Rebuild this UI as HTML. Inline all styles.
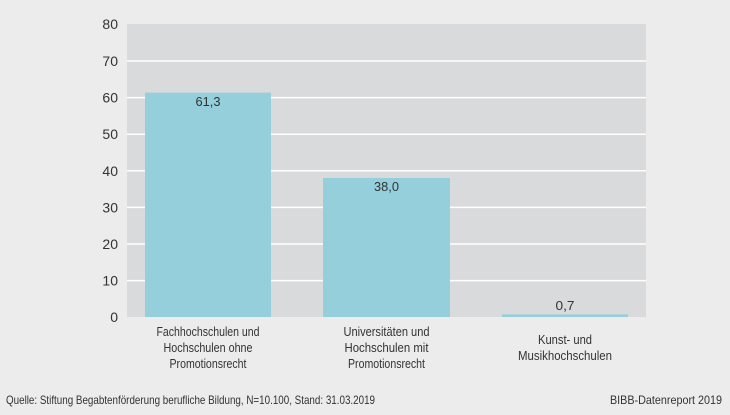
<!DOCTYPE html>
<html><head><meta charset="utf-8"><style>
html,body{margin:0;padding:0}
body{width:730px;height:415px;background:#ececed;position:relative;overflow:hidden}
</style></head><body>
<svg width="730" height="415" style="position:absolute;left:0;top:0" font-family="Liberation Sans Narrow, Liberation Sans, sans-serif" fill="#333">
<rect x="127" y="24" width="519" height="293" fill="#d9dadb"/>
<g stroke="#fff" stroke-width="1.5">
<line x1="127" x2="646" y1="61" y2="61"/>
<line x1="127" x2="646" y1="97.6" y2="97.6"/>
<line x1="127" x2="646" y1="134.2" y2="134.2"/>
<line x1="127" x2="646" y1="170.8" y2="170.8"/>
<line x1="127" x2="646" y1="207.4" y2="207.4"/>
<line x1="127" x2="646" y1="244" y2="244"/>
<line x1="127" x2="646" y1="280.6" y2="280.6"/>
</g>
<rect x="145" y="92.6" width="126" height="224.4" fill="#94cfdb"/>
<rect x="323" y="178" width="127" height="139" fill="#94cfdb"/>
<rect x="502" y="314.4" width="126" height="2.6" fill="#94cfdb"/>
<g font-size="14" text-anchor="end">
<text x="118" y="29">80</text><text x="118" y="66">70</text><text x="118" y="102.5">60</text>
<text x="118" y="139">50</text><text x="118" y="176">40</text><text x="118" y="212.5">30</text>
<text x="118" y="249">20</text><text x="118" y="285.5">10</text><text x="118" y="322">0</text>
</g>
<g font-size="13" text-anchor="middle" lengthAdjust="spacingAndGlyphs">
<text x="208" y="106" textLength="25" lengthAdjust="spacingAndGlyphs">61,3</text>
<text x="386.5" y="191" textLength="25" lengthAdjust="spacingAndGlyphs">38,0</text>
<text x="565" y="310" textLength="19" lengthAdjust="spacingAndGlyphs">0,7</text>
<text x="208" y="336" textLength="103" lengthAdjust="spacingAndGlyphs">Fachhochschulen und</text>
<text x="208" y="352" textLength="89" lengthAdjust="spacingAndGlyphs">Hochschulen ohne</text>
<text x="208" y="368" textLength="77" lengthAdjust="spacingAndGlyphs">Promotionsrecht</text>
<text x="386.5" y="336" textLength="86" lengthAdjust="spacingAndGlyphs">Universitäten und</text>
<text x="386.5" y="352" textLength="84" lengthAdjust="spacingAndGlyphs">Hochschulen mit</text>
<text x="386.5" y="368" textLength="77" lengthAdjust="spacingAndGlyphs">Promotionsrecht</text>
<text x="565" y="344" textLength="54" lengthAdjust="spacingAndGlyphs">Kunst- und</text>
<text x="565" y="360" textLength="94" lengthAdjust="spacingAndGlyphs">Musikhochschulen</text>
</g>
<text x="6" y="404" font-size="12" textLength="369" lengthAdjust="spacingAndGlyphs">Quelle: Stiftung Begabtenförderung berufliche Bildung, N=10.100, Stand: 31.03.2019</text>
<text x="610" y="404" font-size="12" textLength="112" lengthAdjust="spacingAndGlyphs">BIBB-Datenreport 2019</text>
</svg>
</body></html>
